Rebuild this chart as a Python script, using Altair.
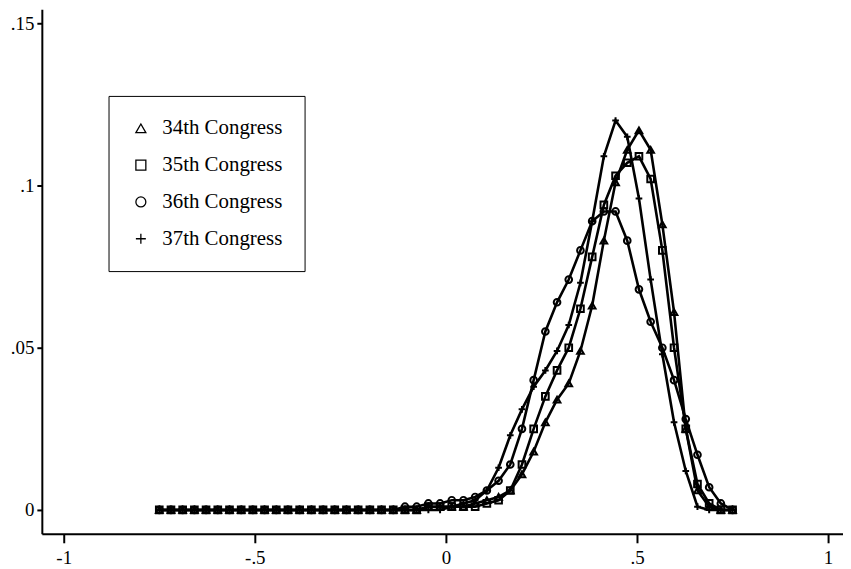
import altair as alt
import pandas as pd

# evaluation grid (50 points from -.75 to .75)
x_grid = [-0.75, -0.7194, -0.6888, -0.6582, -0.6276, -0.5969, -0.5663, -0.5357, -0.5051, -0.4745,
          -0.4439, -0.4133, -0.3827, -0.3520, -0.3214, -0.2908, -0.2602, -0.2296, -0.1990, -0.1684,
          -0.1378, -0.1071, -0.0765, -0.0459, -0.0153, 0.0153, 0.0459, 0.0765, 0.1071, 0.1378,
          0.1684, 0.1990, 0.2296, 0.2602, 0.2908, 0.3214, 0.3520, 0.3827, 0.4133, 0.4439,
          0.4745, 0.5051, 0.5357, 0.5663, 0.5969, 0.6276, 0.6582, 0.6888, 0.7194, 0.75]

congress_34 = [0, 0, 0, 0, 0, 0, 0, 0, 0, 0,
               0, 0, 0, 0, 0, 0, 0, 0, 0, 0,
               0, 0, 0, 0.001, 0.001, 0.001, 0.001, 0.002, 0.003, 0.004,
               0.006, 0.011, 0.018, 0.027, 0.034, 0.039, 0.049, 0.063, 0.083, 0.101,
               0.111, 0.117, 0.111, 0.088, 0.061, 0.025, 0.006, 0.001, 0, 0]

congress_35 = [0, 0, 0, 0, 0, 0, 0, 0, 0, 0,
               0, 0, 0, 0, 0, 0, 0, 0, 0, 0,
               0, 0, 0, 0.001, 0.001, 0.001, 0.001, 0.001, 0.002, 0.003,
               0.006, 0.014, 0.025, 0.035, 0.043, 0.050, 0.062, 0.078, 0.094, 0.103,
               0.107, 0.109, 0.102, 0.080, 0.050, 0.025, 0.008, 0.002, 0, 0]

congress_36 = [0, 0, 0, 0, 0, 0, 0, 0, 0, 0,
               0, 0, 0, 0, 0, 0, 0, 0, 0, 0,
               0, 0.001, 0.001, 0.002, 0.002, 0.003, 0.003, 0.004, 0.006, 0.009,
               0.014, 0.025, 0.040, 0.055, 0.064, 0.071, 0.080, 0.089, 0.092, 0.092,
               0.083, 0.068, 0.058, 0.050, 0.040, 0.028, 0.017, 0.007, 0.002, 0]

congress_37 = [0, 0, 0, 0, 0, 0, 0, 0, 0, 0,
               0, 0, 0, 0, 0, 0, 0, 0, 0, 0,
               0, 0, 0, 0, 0, 0.001, 0.002, 0.003, 0.006, 0.013,
               0.023, 0.031, 0.038, 0.043, 0.049, 0.057, 0.070, 0.089, 0.109, 0.120,
               0.115, 0.096, 0.071, 0.048, 0.027, 0.012, 0.001, 0, 0, 0]

series_names = ["34th Congress", "35th Congress", "36th Congress", "37th Congress"]
series_shapes = ["triangle-up", "square", "circle", "M-1,0L1,0M0,-1L0,1"]
x_ticks = [-1, -0.5, 0, 0.5, 1]
y_ticks = [0, 0.05, 0.1, 0.15]

rows = []
for name, vals in zip(series_names, [congress_34, congress_35, congress_36, congress_37]):
    for xv, yv in zip(x_grid, vals):
        rows.append({"x": xv, "y": yv, "series": name})
df = pd.DataFrame(rows)

FONT = "Liberation Serif"
LABEL_EXPR = "replace(toString(datum.value), '0.', '.')"

x_enc = alt.X(
    "x:Q",
    scale=alt.Scale(domain=[-1.0573, 1.039], nice=False, zero=False),
    axis=alt.Axis(
        values=x_ticks, title=None, grid=False, labelExpr=LABEL_EXPR,
        tickSize=9, labelPadding=6, labelFontSize=19, labelFont=FONT,
        labelColor="black", domainColor="black", tickColor="black",
        domainWidth=2, tickWidth=2, labelFlush=False,
        minExtent=34, maxExtent=34,
    ),
)
y_enc = alt.Y(
    "y:Q",
    scale=alt.Scale(domain=[-0.00736, 0.15429], nice=False, zero=False),
    axis=alt.Axis(
        values=y_ticks, title=None, grid=False, labelExpr=LABEL_EXPR,
        tickSize=5, labelPadding=3, labelFontSize=19, labelFont=FONT,
        labelColor="black", domainColor="black", tickColor="black",
        domainWidth=2, tickWidth=2, labelFlush=False,
        minExtent=34, maxExtent=34,
    ),
)

lines = alt.Chart(df).mark_line(color="black", strokeWidth=2.6).encode(
    x=x_enc, y=y_enc, detail="series:N"
)

points = alt.Chart(df).mark_point(
    filled=False, color="black", strokeWidth=2, size=45, opacity=1
).encode(
    x=x_enc,
    y=y_enc,
    shape=alt.Shape(
        "series:N",
        scale=alt.Scale(domain=series_names, range=series_shapes),
        legend=alt.Legend(
            title=None, orient="none", legendX=67, legendY=87,
            strokeColor="black", fillColor="white", padding=22,
            labelFont=FONT, labelFontSize=21, labelColor="black",
            rowPadding=15, symbolSize=100, symbolStrokeColor="black",
            symbolStrokeWidth=1.3, symbolFillColor="transparent",
            labelOffset=11,
        ),
    ),
)

chart = (
    alt.layer(lines, points)
    .properties(width=805, height=527, background="white",
                padding={"left": 0, "top": 0, "right": 0, "bottom": 0})
    .configure_view(strokeWidth=0, stroke="transparent")
)

chart.save("out.html", embed_options={"renderer": "svg", "actions": False})
